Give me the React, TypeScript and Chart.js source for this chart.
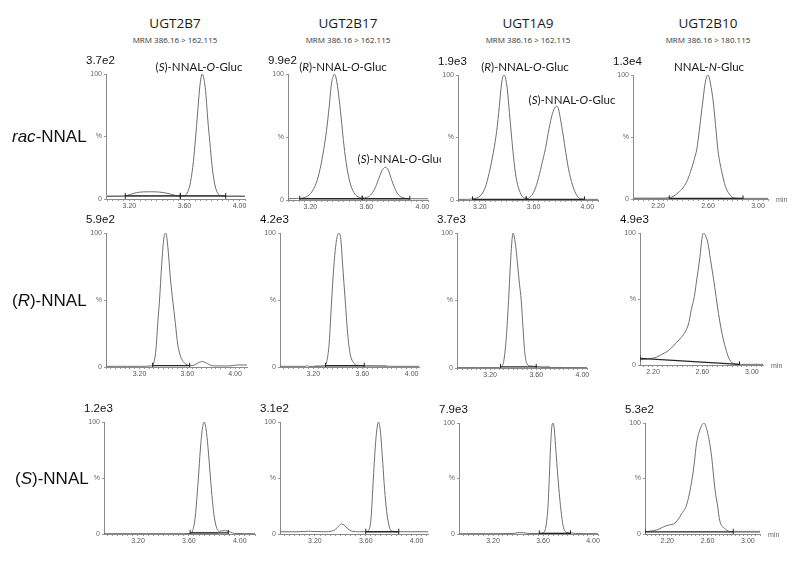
import React, { useEffect, useRef } from "react";
import { Chart, registerables } from "chart.js";

Chart.register(...registerables);

type Pt = [number, number];
// integration baseline segments: x1, y1, x2, y2, style (1 = dark marker with end ticks, 0 = grey band)
type Seg = [number, number, number, number, number];

const ENZYMES = ["UGT2B7", "UGT2B17", "UGT1A9", "UGT2B10"];
const TRANSITIONS = [
  "MRM 386.16 > 162.115",
  "MRM 386.16 > 162.115",
  "MRM 386.16 > 162.115",
  "MRM 386.16 > 180.115",
];
const SCALE_LABELS = [
  ["3.7e2", "9.9e2", "1.9e3", "1.3e4"],
  ["5.9e2", "4.2e3", "3.7e3", "4.9e3"],
  ["1.2e3", "3.1e2", "7.9e3", "5.3e2"],
];
const X_TICKS_O = [3.2, 3.6, 4.0];
const X_TICKS_N = [2.2, 2.6, 3.0];
const Y_TICKS = [0, 50, 100];

const X_RANGES: Pt[][] = [
  [[3.03, 4.04], [3.04, 4.04], [3.037, 4.08], [2.0, 3.08]],
  [[2.92, 4.1], [2.93, 4.06], [2.913, 4.04], [2.095, 3.09]],
  [[2.933, 4.12], [2.925, 4.09], [2.928, 4.04], [1.98, 3.12]],
];

// ---- chromatogram traces (retention time [min], relative intensity [%]) ----
const RAC_2B7: Pt[] = [
  [3.03, 2], [3.1, 2], [3.16, 2.3], [3.2, 3.5], [3.25, 5], [3.3, 5.7], [3.36, 5.8], [3.42, 5.5],
  [3.48, 4.5], [3.53, 3], [3.57, 2.2], [3.6, 2.5], [3.625, 6], [3.645, 14], [3.665, 30], [3.68, 48],
  [3.695, 68], [3.71, 88], [3.72, 97], [3.73, 100], [3.74, 97], [3.755, 85], [3.77, 63], [3.785, 45],
  [3.8, 27], [3.82, 12], [3.84, 5], [3.87, 2.5], [3.92, 2], [4.04, 2],
];
const RAC_2B17: Pt[] = [
  [3.04, 1], [3.1, 1.2], [3.16, 2], [3.2, 5], [3.24, 13], [3.27, 25], [3.295, 40], [3.315, 55],
  [3.335, 75], [3.35, 92], [3.365, 99], [3.372, 100], [3.385, 96], [3.4, 85], [3.42, 65], [3.435, 48],
  [3.455, 30], [3.48, 15], [3.51, 6], [3.54, 2.5], [3.57, 1.5], [3.6, 2], [3.63, 4], [3.66, 9],
  [3.685, 16], [3.71, 23], [3.735, 26], [3.755, 24], [3.78, 16], [3.8, 10], [3.83, 4], [3.87, 1.5],
  [3.92, 1], [4.04, 1],
];
const RAC_1A9: Pt[] = [
  [3.037, 0.5], [3.1, 0.5], [3.15, 1], [3.2, 3], [3.24, 10], [3.27, 22], [3.3, 38], [3.325, 55],
  [3.345, 75], [3.36, 92], [3.372, 99], [3.38, 100], [3.39, 98], [3.405, 88], [3.42, 70], [3.435, 52],
  [3.45, 35], [3.47, 18], [3.5, 6], [3.53, 1.5], [3.55, 1], [3.57, 2], [3.6, 6], [3.63, 15], [3.66, 28],
  [3.69, 42], [3.715, 57], [3.74, 69], [3.76, 74], [3.772, 75], [3.785, 73], [3.8, 65], [3.82, 52],
  [3.84, 38], [3.86, 25], [3.89, 12], [3.92, 4], [3.95, 1], [4.0, 0.5], [4.08, 0.5],
];
const RAC_2B10: Pt[] = [
  [2.0, 0.5], [2.1, 0.5], [2.2, 0.5], [2.28, 0.8], [2.32, 2], [2.36, 5], [2.4, 9], [2.43, 14],
  [2.46, 22], [2.49, 32], [2.51, 40], [2.53, 55], [2.55, 72], [2.56, 80], [2.575, 92], [2.59, 99],
  [2.6, 100], [2.61, 98], [2.625, 90], [2.64, 80], [2.66, 60], [2.68, 39], [2.71, 22], [2.74, 10],
  [2.77, 4], [2.8, 1], [2.85, 0.5], [3.08, 0.5],
];
const R_2B7: Pt[] = [
  [2.92, 0.5], [3.0, 0.5], [3.1, 0.5], [3.2, 0.5], [3.3, 0.8], [3.32, 3], [3.34, 15], [3.355, 35],
  [3.368, 50], [3.385, 75], [3.4, 93], [3.41, 99], [3.42, 100], [3.43, 96], [3.445, 82], [3.46, 65],
  [3.478, 50], [3.5, 33], [3.52, 17], [3.54, 9], [3.56, 5], [3.59, 2], [3.62, 1], [3.66, 1.5],
  [3.7, 3.5], [3.725, 4], [3.75, 3.5], [3.79, 1.5], [3.83, 0.8], [3.95, 0.8], [4.02, 1.5], [4.1, 1.5],
];
const R_2B17: Pt[] = [
  [2.93, 0.5], [3.05, 0.5], [3.14, 0.5], [3.15, 1.2], [3.16, 0.5], [3.25, 0.5], [3.29, 1], [3.31, 4],
  [3.33, 18], [3.35, 50], [3.37, 78], [3.39, 95], [3.41, 100], [3.425, 95], [3.44, 75], [3.46, 50],
  [3.48, 25], [3.5, 10], [3.53, 3], [3.56, 1.2], [3.62, 1], [3.75, 0.8], [3.85, 0.5], [4.06, 0.5],
];
const R_1A9: Pt[] = [
  [2.913, 0.3], [3.1, 0.3], [3.28, 0.3], [3.3, 1], [3.32, 6], [3.34, 22], [3.36, 50], [3.375, 75],
  [3.39, 95], [3.4, 100], [3.41, 97], [3.425, 88], [3.44, 75], [3.455, 62], [3.47, 50], [3.485, 30],
  [3.5, 12], [3.52, 3], [3.55, 1.5], [3.6, 1.2], [3.65, 0.5], [4.04, 0.3],
];
const R_2B10: Pt[] = [
  [2.095, 4], [2.15, 4.5], [2.23, 6], [2.27, 8], [2.31, 10], [2.35, 13], [2.39, 17], [2.43, 21],
  [2.46, 25], [2.49, 32], [2.51, 42], [2.535, 52], [2.55, 62], [2.58, 82], [2.595, 95], [2.61, 100],
  [2.625, 98], [2.645, 92], [2.665, 80], [2.69, 65], [2.71, 52], [2.73, 39], [2.75, 28], [2.77, 19],
  [2.79, 12], [2.81, 6], [2.85, 1], [2.9, 0.5], [3.09, 0.5],
];
const S_2B7: Pt[] = [
  [2.933, 0.3], [3.2, 0.3], [3.5, 0.3], [3.61, 0.5], [3.63, 3], [3.65, 15], [3.665, 35], [3.675, 50],
  [3.69, 75], [3.705, 93], [3.72, 100], [3.735, 94], [3.75, 78], [3.77, 50], [3.785, 30], [3.8, 15],
  [3.82, 5], [3.84, 2.5], [3.88, 3], [3.92, 2], [3.96, 0.5], [4.12, 0.3],
];
const S_2B17: Pt[] = [
  [2.925, 2], [3.05, 2], [3.12, 2.2], [3.15, 2.5], [3.2, 2.2], [3.28, 2], [3.33, 2.5], [3.36, 4],
  [3.39, 7.5], [3.41, 9], [3.43, 8], [3.46, 4.5], [3.49, 2.5], [3.55, 2], [3.6, 2], [3.62, 3],
  [3.64, 12], [3.66, 50], [3.68, 85], [3.7, 100], [3.715, 92], [3.73, 70], [3.745, 45], [3.76, 25],
  [3.78, 9], [3.8, 3], [3.85, 2], [4.09, 2],
];
const S_1A9: Pt[] = [
  [2.928, 0.3], [3.2, 0.3], [3.36, 0.5], [3.4, 1.2], [3.44, 1.2], [3.48, 0.5], [3.58, 0.4], [3.6, 1],
  [3.62, 5], [3.64, 25], [3.65, 50], [3.66, 78], [3.67, 96], [3.68, 100], [3.69, 95], [3.7, 80],
  [3.72, 50], [3.74, 25], [3.76, 8], [3.78, 2], [3.82, 1], [3.86, 0.5], [4.04, 0.3],
];
const S_2B10: Pt[] = [
  [1.98, 2], [2.065, 3], [2.12, 4.5], [2.163, 6.5], [2.213, 8], [2.28, 10], [2.345, 18.5], [2.395, 27],
  [2.444, 48], [2.47, 65], [2.49, 81], [2.543, 98], [2.566, 100], [2.59, 95], [2.615, 85], [2.64, 70],
  [2.674, 40], [2.7, 25], [2.72, 12.5], [2.77, 5], [2.84, 2], [2.9, 2], [3.12, 2],
];

const TRACES: Pt[][][] = [
  [RAC_2B7, RAC_2B17, RAC_1A9, RAC_2B10],
  [R_2B7, R_2B17, R_1A9, R_2B10],
  [S_2B7, S_2B17, S_1A9, S_2B10],
];

// ---- peak integration baselines ----
const INTEGRATION: Seg[][][] = [
  [
    [[3.03, 2.5, 4.04, 2.5, 0], [3.17, 2.5, 3.57, 2.5, 1], [3.57, 2.5, 3.9, 2.5, 1]],
    [[3.124, 1, 3.57, 1, 1], [3.57, 1, 3.91, 1, 1]],
    [[3.145, 0.5, 3.545, 0.5, 1], [3.545, 0.5, 3.98, 0.5, 1]],
    [[2.0, 0.5, 2.29, 0.5, 0], [2.29, 0.5, 2.88, 0.5, 1]],
  ],
  [
    [[3.31, 1, 3.62, 1, 1]],
    [[3.215, 0.5, 3.8, 0.5, 0], [3.3, 1, 3.615, 1, 1]],
    [[3.6, 0.8, 3.72, 0.8, 0], [3.29, 0.8, 3.6, 0.8, 1]],
    [[2.095, 5, 2.9, 0.5, 1]],
  ],
  [
    [[3.61, 1, 3.83, 1, 0], [3.61, 1, 3.91, 1, 1]],
    [[3.6, 2, 3.86, 2, 1]],
    [[3.57, 0.6, 3.82, 0.6, 1]],
    [[2.855, 2, 3.12, 2, 0], [1.98, 2, 2.855, 2, 1]],
  ],
];

// ---- layout (page pixels): y-axis x, y of 100 %, y of 0 %, x-axis end ----
type Box = { L: number; T: number; B: number; R: number };
const BOXES: Box[][] = [
  [
    { L: 106, T: 74, B: 199, R: 245 },
    { L: 288, T: 74, B: 200, R: 428 },
    { L: 458, T: 75, B: 200, R: 598 },
    { L: 633, T: 75, B: 199, R: 768 },
  ],
  [
    { L: 106, T: 233, B: 367, R: 247 },
    { L: 280, T: 233, B: 367, R: 419 },
    { L: 457, T: 233, B: 368, R: 587 },
    { L: 640, T: 233, B: 365, R: 763 },
  ],
  [
    { L: 104, T: 422, B: 534, R: 255 },
    { L: 280, T: 422, B: 534, R: 428 },
    { L: 459, T: 423, B: 534, R: 598 },
    { L: 645, T: 423, B: 534, R: 760 },
  ],
];
const TITLE_X = [175, 348, 528, 708];

const YW = 18;
const PT = 8;
const XH = 16;
const PR = 12;

function Panel({ box, range, trace, segs, major }: { box: Box; range: Pt; trace: Pt[]; segs: Seg[]; major: number[] }) {
  const ref = useRef<HTMLCanvasElement>(null);
  const w = box.R - box.L + YW + PR;
  const h = box.B - box.T + PT + XH;
  useEffect(() => {
    const [xmin, xmax] = range;
    const step = 0.04;
    const all: number[] = [];
    for (let k = Math.ceil(xmin / step - 1e-6); k * step <= xmax + 1e-6; k++) all.push(+(k * step).toFixed(2));
    const isMajor = (v: number) => major.some((m) => Math.abs(m - v) < 1e-3);
    const datasets: any[] = [
      {
        data: trace.map(([x, y]) => ({ x, y })),
        borderColor: "#6e6e6e",
        borderWidth: 1,
        pointRadius: 0,
        cubicInterpolationMode: "monotone",
        fill: false,
        order: 1,
      },
    ];
    segs.forEach(([x1, y1, x2, y2, k]) =>
      datasets.push({
        data: [{ x: x1, y: y1 }, { x: x2, y: y2 }],
        borderColor: k === 1 ? "#262626" : "#b4b4b4",
        borderWidth: k === 1 ? 1.3 : 2,
        pointStyle: "line",
        pointRotation: 90,
        pointRadius: k === 1 ? 3 : 0,
        pointBorderColor: "#262626",
        pointBorderWidth: 1,
        fill: false,
        order: k === 1 ? 0 : 2,
      })
    );
    const chart = new Chart(ref.current as HTMLCanvasElement, {
      type: "line",
      data: { datasets },
      options: {
        animation: false,
        responsive: false,
        events: [],
        layout: { padding: { top: PT, right: PR, left: 0, bottom: 0 } },
        plugins: { legend: { display: false }, tooltip: { enabled: false } },
        scales: {
          x: {
            type: "linear",
            min: xmin,
            max: xmax,
            afterBuildTicks: (s: any) => {
              s.ticks = all.map((v) => ({ value: v }));
            },
            afterFit: (s: any) => {
              s.height = XH;
            },
            ticks: {
              autoSkip: false,
              maxRotation: 0,
              padding: 1,
              color: "#555",
              font: { family: "Liberation Sans", size: 7 },
              callback: (v: any) => (isMajor(Number(v)) ? Number(v).toFixed(2) : ""),
            },
            grid: { drawOnChartArea: false, tickLength: 2, color: "#9a9a9a" },
            border: { color: "#8a8a8a" },
          },
          y: {
            min: 0,
            max: 100,
            afterBuildTicks: (s: any) => {
              s.ticks = Y_TICKS.map((v) => ({ value: v }));
            },
            afterFit: (s: any) => {
              s.width = YW;
            },
            ticks: {
              padding: 2,
              color: "#666",
              font: { family: "Liberation Sans", size: 7 },
              callback: (v: any) => (Number(v) === 50 ? "%" : String(v)),
            },
            grid: { drawOnChartArea: false, tickLength: 2, color: "#9a9a9a" },
            border: { color: "#8a8a8a" },
          },
        },
      } as any,
    });
    return () => chart.destroy();
  }, []);
  return (
    <canvas
      ref={ref}
      width={w}
      height={h}
      style={{ position: "absolute", left: box.L - YW, top: box.T - PT, width: w, height: h }}
    />
  );
}

const abs = (x: number, y: number, extra: React.CSSProperties = {}): React.CSSProperties => ({
  position: "absolute",
  left: x,
  top: y,
  whiteSpace: "nowrap",
  lineHeight: 1,
  ...extra,
});

const peakFont: React.CSSProperties = {
  fontFamily: "Lato, 'Open Sans', sans-serif",
  fontSize: 11.5,
  fontWeight: 400,
  color: "#1a1a1a",
};

function PeakLabel({ x, y, children, clip }: { x: number; y: number; children: React.ReactNode; clip?: number }) {
  if (clip) {
    return (
      <div style={{ position: "absolute", left: 0, top: y - 10, width: clip, height: 20, overflow: "hidden" }}>
        <div style={abs(x, 10, { ...peakFont, transform: "translate(-50%, -50%)" })}>{children}</div>
      </div>
    );
  }
  return <div style={abs(x, y, { ...peakFont, transform: "translate(-50%, -50%)" })}>{children}</div>;
}

const OGluc = (c: string) => (
  <>
    (<i>{c}</i>)-NNAL-<i>O</i>-Gluc
  </>
);

export default function App() {
  const rowLabel: React.CSSProperties = {
    fontFamily: "'Liberation Sans', Arial, sans-serif",
    fontSize: 17,
    color: "#111",
    transform: "translateY(-50%)",
  };
  return (
    <div
      style={{
        position: "absolute",
        left: 0,
        top: 0,
        width: 800,
        height: 567,
        background: "#fff",
        overflow: "hidden",
      }}
    >
      {ENZYMES.map((e, c) => (
        <React.Fragment key={e}>
          <div
            style={abs(TITLE_X[c], 24, {
              fontFamily: "'Open Sans', sans-serif",
              fontSize: 13.5,
              fontWeight: 400,
              color: "#1a1a1a",
              transform: "translate(-50%, -50%)",
            })}
          >
            {e}
          </div>
          <div
            style={abs(TITLE_X[c], 40, {
              fontFamily: "'Open Sans', sans-serif",
              fontSize: 8,
              fontWeight: 400,
              color: "#333",
              transform: "translate(-50%, -50%)",
            })}
          >
            {TRANSITIONS[c]}
          </div>
        </React.Fragment>
      ))}

      {BOXES.map((row, r) =>
        row.map((box, c) => (
          <React.Fragment key={`${r}-${c}`}>
            <Panel
              box={box}
              range={X_RANGES[r][c]}
              trace={TRACES[r][c]}
              segs={INTEGRATION[r][c]}
              major={c === 3 ? X_TICKS_N : X_TICKS_O}
            />
            <div
              style={abs(box.L - 20, box.T - 13, {
                fontFamily: "'Liberation Sans', Arial, sans-serif",
                fontSize: 11.5,
                color: "#111",
                transform: "translateY(-50%)",
              })}
            >
              {SCALE_LABELS[r][c]}
            </div>
            {c === 3 && (
              <div
                style={abs(box.R + 8, box.B, {
                  fontFamily: "'Liberation Sans', Arial, sans-serif",
                  fontSize: 7,
                  color: "#666",
                  transform: "translateY(-50%)",
                })}
              >
                min
              </div>
            )}
          </React.Fragment>
        ))
      )}

      <div style={abs(12, 136, rowLabel)}>
        <i>rac</i>-NNAL
      </div>
      <div style={abs(12, 300, rowLabel)}>
        (<i>R</i>)-NNAL
      </div>
      <div style={abs(15, 478, rowLabel)}>
        (<i>S</i>)-NNAL
      </div>

      <PeakLabel x={199} y={67}>{OGluc("S")}</PeakLabel>
      <PeakLabel x={343} y={67}>{OGluc("R")}</PeakLabel>
      <PeakLabel x={401} y={159} clip={441}>{OGluc("S")}</PeakLabel>
      <PeakLabel x={525} y={67}>{OGluc("R")}</PeakLabel>
      <PeakLabel x={572} y={100}>{OGluc("S")}</PeakLabel>
      <PeakLabel x={709} y={67}>
        NNAL-<i>N</i>-Gluc
      </PeakLabel>
    </div>
  );
}
